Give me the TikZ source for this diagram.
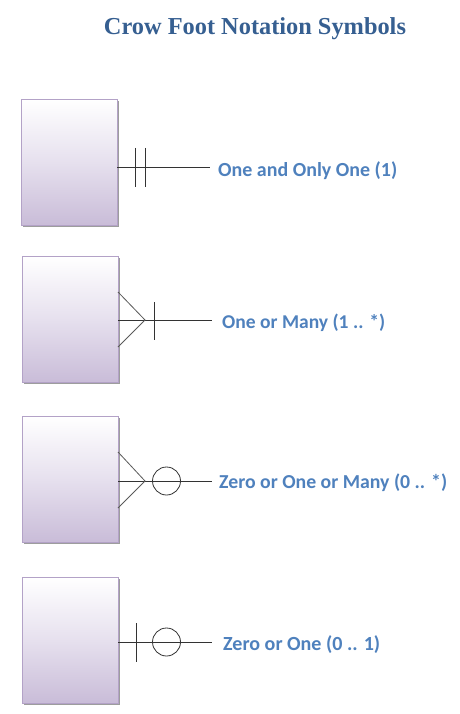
\documentclass[tikz,border=0pt]{standalone}
\usepackage{fontspec}
\setmainfont{Carlito}
\newfontfamily\titlefont{Liberation Serif}
\usepackage{graphicx}
\usetikzlibrary{shadows}
\definecolor{lblue}{HTML}{4F81BD}
\definecolor{tblue}{HTML}{365F91}
\definecolor{boxbot}{HTML}{C9BCD8}
\definecolor{boxmid}{HTML}{E6E0EE}
\definecolor{boxline}{HTML}{B3A2C7}
\definecolor{ink}{HTML}{333333}
\tikzset{
  entity/.style={draw=boxline, line width=0.8pt, top color=white, bottom color=boxbot, middle color=boxmid,
    minimum width=96pt, minimum height=126pt, anchor=north west, inner sep=0pt,
    drop shadow={shadow xshift=2pt, shadow yshift=-2pt, fill=black!55, opacity=0.7}},
  lbl/.style={anchor=west, inner sep=0pt, text=lblue, font=\bfseries},
  rel/.style={draw=ink, line width=0.8pt},
  foot/.style={draw=black!65, line width=0.8pt},
  ring/.style={circle, draw=ink, line width=0.8pt, minimum size=28pt, inner sep=0pt}
}
\begin{document}
\begin{tikzpicture}[x=1pt,y=-1pt]
\useasboundingbox (0,0) rectangle (459,714);
% title
\node[inner sep=0pt, text=tblue] (title) at (255,29) {\resizebox{302pt}{!}{\titlefont\bfseries Crow Foot Notation Symbols}};

% row 1
\node[entity] (e1) at (21,99) {};
\coordinate (a1) at (117,167);
\coordinate (b1) at (210,167);
\node[lbl] (l1) at (218,171) {\resizebox{179pt}{!}{One and Only One (1)}};
\draw[rel] (a1) -- (b1);
\coordinate (t1a) at (135,148); \coordinate (t1b) at (135,187);
\coordinate (t2a) at (145,148); \coordinate (t2b) at (145,187);
\draw[rel] (t1a) -- (t1b);
\draw[rel] (t2a) -- (t2b);

% row 2
\node[entity] (e2) at (22,256) {};
\coordinate (a2) at (118,320);
\coordinate (b2) at (212,320);
\coordinate (f2) at (145,320);
\coordinate (u2) at (118,292);
\coordinate (d2) at (118,347);
\node[lbl] (l2) at (222,323) {\resizebox{163pt}{!}{One or Many (1 .. *)}};
\draw[rel] (a2) -- (b2);
\draw[foot] (u2) -- (f2) -- (d2);
\coordinate (t3a) at (154,302); \coordinate (t3b) at (154,340);
\draw[rel] (t3a) -- (t3b);

% row 3
\node[entity] (e3) at (22,416) {};
\coordinate (a3) at (118,481);
\coordinate (b3) at (212,481);
\coordinate (f3) at (145,481);
\coordinate (u3) at (118,452);
\coordinate (d3) at (118,508);
\node[lbl] (l3) at (219,483) {\resizebox{228pt}{!}{Zero or One or Many (0 .. *)}};
\draw[rel] (a3) -- (b3);
\draw[foot] (u3) -- (f3) -- (d3);
\node[ring] (c3) at (166.5,481) {};

% row 4
\node[entity] (e4) at (22,577) {};
\coordinate (a4) at (118,642);
\coordinate (b4) at (212,642);
\node[lbl] (l4) at (223,645) {\resizebox{157pt}{!}{Zero or One (0 .. 1)}};
\draw[rel] (a4) -- (b4);
\coordinate (t4a) at (136,623); \coordinate (t4b) at (136,662);
\draw[rel] (t4a) -- (t4b);
\node[ring] (c4) at (166.5,642) {};
\end{tikzpicture}
\end{document}
